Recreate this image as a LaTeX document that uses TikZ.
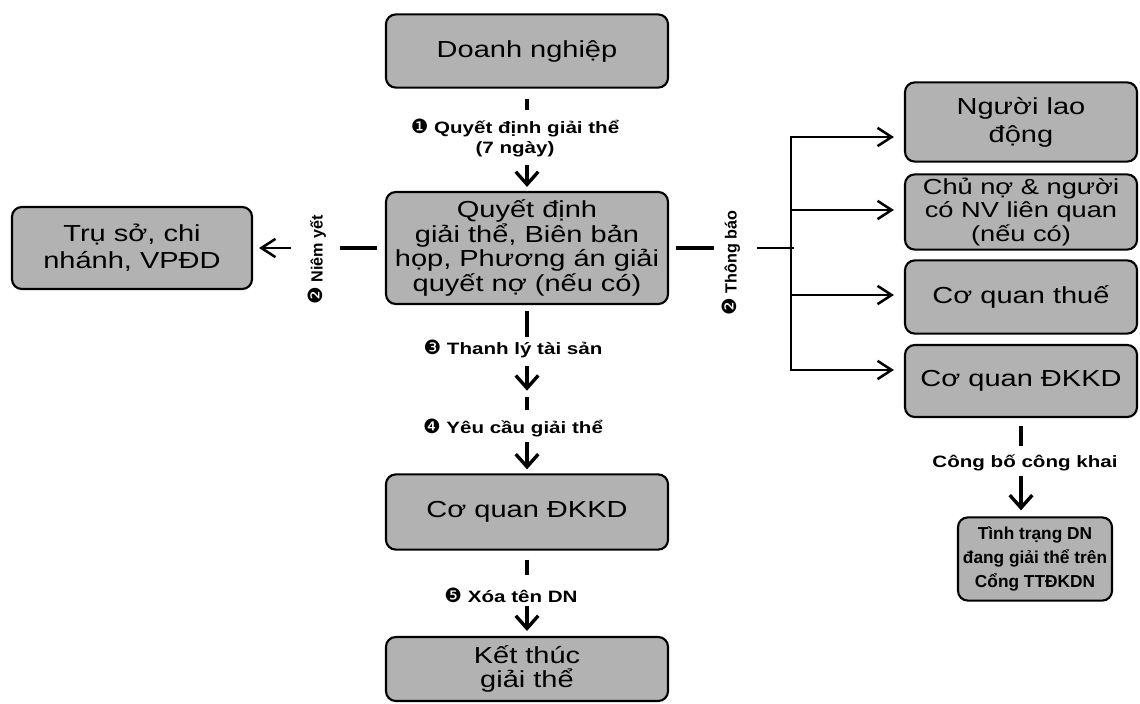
\documentclass[tikz,border=0pt]{standalone}
\usepackage{fontspec}
\setmainfont{Liberation Sans}[FakeStretch=1.25]
\newfontfamily\plainsans{Liberation Sans}
\newfontfamily\numfont{DejaVu Sans}
\usetikzlibrary{arrows.meta,calc,positioning}
\newcommand{\badge}[1]{{\numfont\mdseries\fontsize{14}{14}\selectfont #1}}

\begin{document}
\begin{tikzpicture}[x=0.025cm,y=-0.025cm,align=center,
	box/.style={draw,line width=1.5pt,rounded corners=7pt,fill=black!30,inner sep=2pt,font=\fontsize{16.5}{17.5}\selectfont},
	midbox/.style={box,minimum width=7.05cm},
	sidebox/.style={box,minimum width=5.8cm},
	lbl/.style={font=\bfseries\fontsize{11.7}{14}\selectfont,inner sep=1pt},
	vlbl/.style={font=\plainsans\bfseries\fontsize{11.5}{13}\selectfont,inner sep=1pt,rotate=90},
	stub/.style={line width=2.6pt},
	trunk/.style={line width=1.8pt,line cap=rect},
	dnarr/.style={line width=2.4pt,-{Straight Barb[length=9pt,width=16pt]}},
	sidearr/.style={line width=1.8pt,-{Straight Barb[length=10pt,width=13pt]}}]
\useasboundingbox (0,0) rectangle (1140,704);

% center column
\node[midbox,minimum height=1.83cm] (dn) at (527,51) {Doanh nghiệp};
\node[midbox,minimum height=2.8cm] (qd) at (527,248) {Quyết định\\giải thể, Biên bản\\họp, Phương án giải\\quyết nợ (nếu có)};
\node[midbox,minimum height=1.88cm] (dk) at (527,512) {Cơ quan ĐKKD};
\node[midbox,minimum height=1.6cm] (kt) at (527,669) {Kết thúc\\giải thể};
% left
\node[box,minimum width=6cm,minimum height=2.05cm,font=\fontsize{16.5}{19.5}\selectfont] (ts) at (132,248) {Trụ sở, chi\\nhánh, VPĐD};
% right column
\node[sidebox,minimum height=1.98cm,font=\fontsize{16.5}{20}\selectfont] (ld) at (1021,122) {Người lao\\động};
\node[sidebox,minimum height=1.88cm,font=\fontsize{15.5}{16.5}\selectfont] (cn) at (1021,212) {Chủ nợ \& người\\có NV liên quan\\(nếu có)};
\node[sidebox,minimum height=1.83cm] (th) at (1021,297) {Cơ quan thuế};
\node[sidebox,minimum height=1.8cm] (dr) at (1021,381) {Cơ quan ĐKKD};
\node[box,minimum width=3.85cm,minimum height=2.08cm,font=\plainsans\bfseries\fontsize{12.3}{17}\selectfont] (tt) at (1035,559) {Tình trạng DN\\đang giải thể trên\\Cổng TTĐKDN};

% labels
\node[lbl] (l1) at (515,138) {\badge{❶} Quyết định giải thể\\(7 ngày)};
\node[lbl] (l3) at (513,349) {\badge{❸} Thanh lý tài sản};
\node[lbl] (l4) at (513,428) {\badge{❹} Yêu cầu giải thể};
\node[lbl] (l5) at (511,595) {\badge{❺} Xóa tên DN};
\node[lbl] (lc) at (1025,463) {Công bố công khai};
\node[vlbl] (ln) at (317,260) {\badge{❷} Niêm yết};
\node[vlbl] (lt) at (731,263) {\badge{❷} Thông báo};

% center flow
\draw[stub] ($(dn.south)+(0,10)$) -- ++(0,11);
\draw[dnarr] ($(qd.north)+(0,-26)$) -- ($(qd.north)+(0,-4)$);
\draw[stub] ($(qd.south)+(0,6)$) -- ++(0,26);
\draw[dnarr] ($(l3.south -| qd.south)+(0,6)$) -- ++(0,25);
\draw[stub] ($(l4.north -| qd.south)+(0,-20)$) -- ++(0,13);
\draw[dnarr] ($(dk.north)+(0,-31)$) -- ($(dk.north)+(0,-4)$);
\draw[stub] ($(dk.south)+(0,9)$) -- ++(0,15);
\draw[dnarr] ($(kt.north)+(0,-30)$) -- ($(kt.north)+(0,-5)$);

% niem yet
\draw[stub] ($(qd.west)+(-8,0)$) -- ++(-37,0);
\draw[sidearr] ($(ts.east)+(38,0)$) -- ($(ts.east)+(6,0)$);

% thong bao
\draw[stub] ($(qd.east)+(7,0)$) -- ++(38,0);
\draw[trunk] ($(qd.east)+(89,0)$) -- ($(qd.east)+(124,0)$);
\draw[trunk] ($(ld.west)+(-113,15)$) -- ($(dr.west)+(-113,-11)$);
\foreach \n/\dy in {ld/15,cn/-2,th/-2,dr/-11}
	\draw[sidearr] ($(\n.west)+(-113,\dy)$) -- ($(\n.west)+(-10,\dy)$);

% cong bo
\draw[stub] ($(dr.south)+(0,8)$) -- ++(0,20);
\draw[dnarr] ($(tt.north -| dr.south)+(0,-40)$) -- ($(tt.north -| dr.south)+(0,-6)$);
\end{tikzpicture}
\end{document}
